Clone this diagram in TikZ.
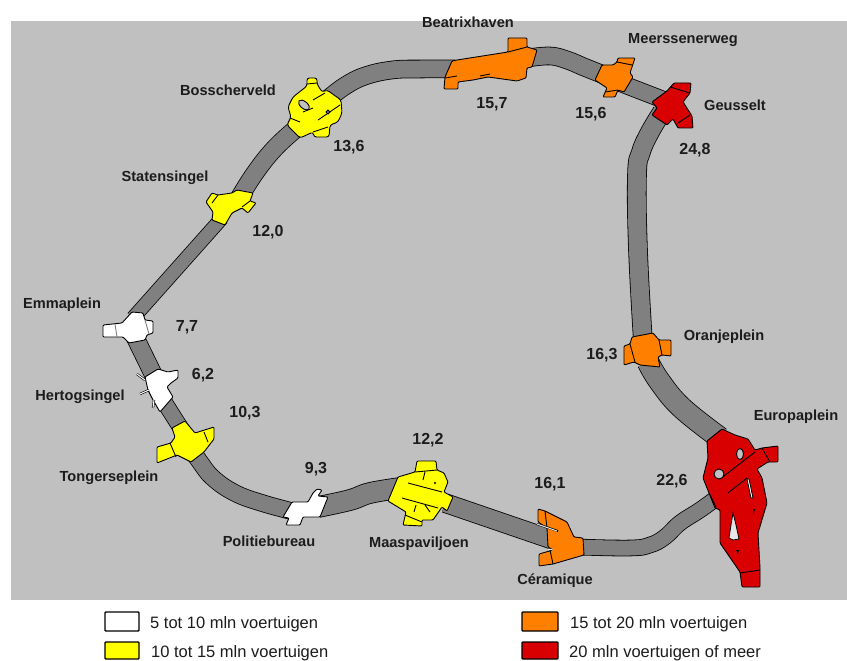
\documentclass[tikz,border=0pt]{standalone}
\usepackage{fontspec}
\setmainfont{Liberation Sans}
\definecolor{mapbg}{HTML}{C0C0C0}
\definecolor{roadc}{HTML}{808080}
\definecolor{cyel}{HTML}{FFFF00}
\definecolor{cora}{HTML}{FF8000}
\definecolor{cred}{HTML}{D80000}
\definecolor{inkc}{HTML}{1C1C1C}
\newcommand\roadseg[2]{%
  \draw[black,line width=#1pt+1.6pt,line cap=butt,line join=round] plot[smooth,tension=0.7] coordinates {#2};
  \draw[roadc,line width=#1pt,line cap=butt,line join=round] plot[smooth,tension=0.7] coordinates {#2};}
\tikzset{
  junc/.style={draw=black,line width=0.9pt,line join=round,rounded corners=1pt},
  jline/.style={draw=black,line width=0.9pt},
  place/.style={text=inkc,font=\fontsize{14.6}{16}\selectfont\bfseries,inner sep=0pt},
  valuetxt/.style={text=inkc,font=\fontsize{16}{18}\selectfont\bfseries,inner sep=0pt},
  legendbox/.style={draw=black,line width=1.4pt,rounded corners=0.8pt},
  legendtxt/.style={text=inkc,font=\fontsize{16.5}{18}\selectfont,anchor=west,inner sep=0pt},
}
\begin{document}
\begin{tikzpicture}[x=1pt,y=-1pt]
\useasboundingbox (0,0) rectangle (847,661);
\fill[white] (0,0) rectangle (847,661);
\fill[mapbg] (11,21) rectangle (847,600);
% roads
\roadseg{13}{(133,318) (222,218)}
\roadseg{17}{(238,200) (255,173) (275,148) (298,127)}
\roadseg{17}{(328,99) (345,86) (365,76) (392,70) (420,69) (455,69)}
\roadseg{17}{(528,58) (550,56) (567,60) (584,67) (604,75)}
\roadseg{16}{(620,83) (664,100)}
\roadseg{18}{(662,112) (650,132) (641,152) (637,175) (638,250) (643,342)}
\roadseg{21}{(648,362) (660,382) (682,408) (720,438)}
\roadseg{15}{(718,497) (700,510) (680,523) (665,537) (650,545) (630,548) (578,547)}
\roadseg{18}{(445,503) (556,541)}
\roadseg{20}{(400,488) (370,493) (350,500) (318,507)}
\roadseg{16}{(295,512) (262,503) (235,493) (213,478) (200,462) (192,450)}
\roadseg{15}{(182,430) (163,400)}
\roadseg{17}{(134,335) (155,378)}
% Emmaplein
\filldraw[junc,fill=white] (132,312)--(143,313)--(145,320)--(153,321)--(153,333)--(147,335)--(145,340)--(129,343)--(123,337)--(103,337)--(103,325)--(122,323)--cycle;
\draw[jline,draw=gray] (115,324)--(117,337) (145,320)--(149,334);
% Hertogsingel
\filldraw[junc,fill=white] (145,377)--(158,369)--(168,372)--(178,370)--(178,378)--(171,383)--(167,387)--(173,397)--(160,412)--(153,400)--(148,390)--cycle;
\draw[black,line width=2.2pt] (137,374)--(145,380) (140,394)--(149,390) (153,408)--(154,400);
\draw[white,line width=1pt] (137,374)--(145,380) (140,394)--(149,390) (153,408)--(154,400);
% Tongerseplein
\filldraw[junc,fill=cyel] (172,428)--(185,421)--(195,433)--(214,427)--(214,439)--(204,452)--(191,462)--(177,455)--(157,463)--(157,447)--(171,443)--(175,437)--cycle;
\draw[jline] (170,443)--(176,457) (204,432)--(208,442);
% Politiebureau
\filldraw[junc,fill=white] (292,502)--(308,502)--(313,493)--(317,489)--(322,490)--(318,496)--(328,497)--(320,517)--(303,517)--(300,525)--(286,525)--(289,518)--(283,517)--cycle;
% Maaspaviljoen
\filldraw[junc,fill=cyel] (417,461)--(436,461)--(437,470)--(444,473)--(448,482)--(444,492)--(453,497)--(447,511)--(442,507)--(433,520)--(422,520)--(422,526)--(403,525)--(406,512)--(388,501)--(398,477)--(415,472)--cycle;
\draw[jline] (408,483)--(442,492) (402,498)--(438,508) (405,515)--(422,522) (415,472)--(437,470) (423,480)--(425,472) (416,505)--(414,512) (425,505)--(430,512);
\fill[black] (435,483) circle (1.2);
% Ceramique
\filldraw[junc,fill=cora] (538,509)--(545,511)--(567,522)--(574,537)--(583,538)--(584,555)--(553,564)--(539,566)--(539,554)--(553,550)--(548,547)--(547,528)--(538,522)--cycle;
\draw[jline] (545,511)--(547,528) (550,550)--(553,564);
\draw[black,line width=2pt] (537,524)--(558,531);
\draw[white!80!gray,line width=1pt] (537,524)--(557,531) (548,549)--(553,550);
% Europaplein
\filldraw[junc,fill=cred] (722,429)--(735,435)--(748,439)--(755,450)--(762,448)--(778,446)--(778,462)--(768,462)--(757,469)--(762,478)--(767,503)--(758,533)--(760,568)--(760,587)--(742,587)--(740,572)--(720,543)--(720,510)--(715,508)--(709,493)--(703,478)--(708,458)--(707,441)--cycle;
\draw[jline] (720,479)--(755,452) (728,493)--(747,478) (762,448)--(770,462) (740,573)--(760,570) (709,493)--(716,507);
\filldraw[draw=black,line width=0.9pt,fill=mapbg] (740,454) ellipse (3.5 and 5.5);
\filldraw[draw=black,line width=0.9pt,fill=mapbg] (719,474) circle (5);
\filldraw[draw=black,line width=0.8pt,fill=white] (747,479)--(749,479)--(753,498)--(751,498)--cycle;
\filldraw[draw=black,line width=0.8pt,fill=mapbg!40!white] (733,513)--(736,525)--(739,539)--(733,540)--(729,538)--(731,525)--cycle;
\fill[black] (753,509)--(755,509)--(753,515)--cycle (736,550)--(739,550)--(738,554)--cycle;
% Oranjeplein
\filldraw[junc,fill=cora] (632,337)--(653,333)--(659,340)--(671,340)--(671,356)--(662,355)--(658,357)--(660,367)--(640,365)--(634,362)--(624,365)--(624,346)--(630,344)--cycle;
\draw[jline] (630,344)--(635,362) (659,340)--(662,355);
% Geusselt
\filldraw[junc,fill=cred] (674,83)--(691,83)--(690,93)--(683,102)--(692,116)--(693,128)--(678,128)--(673,119)--(667,125)--(652,115)--(657,108)--(652,102)--(667,91)--cycle;
\draw[jline] (670,87)--(690,93) (678,123)--(690,115);
% Meerssenerweg
\filldraw[junc,fill=cora] (618,58)--(635,58)--(630,73)--(633,77)--(624,92)--(618,90)--(615,97)--(603,97)--(607,88)--(595,80)--(602,65)--(613,65)--(617,62)--cycle;
\draw[jline] (617,62)--(632,65) (605,92)--(618,90);
% Beatrixhaven
\filldraw[junc,fill=cora] (508,38)--(527,38)--(527,47)--(537,50)--(532,67)--(527,68)--(526,78)--(517,81)--(488,77)--(473,80)--(458,82)--(458,89)--(444,89)--(445,77)--(452,61)--(457,60)--(508,52)--cycle;
\draw[jline] (508,52)--(527,47) (445,78)--(457,76) (480,76)--(490,74);
% Statensingel
\filldraw[junc,fill=cyel] (212,193)--(218,195)--(232,193)--(237,190)--(253,193)--(250,201)--(256,203)--(248,213)--(242,208)--(232,213)--(225,225)--(212,220)--(213,212)--(206,202)--cycle;
\draw[jline] (218,195)--(212,203) (250,201)--(242,207);
% Bosscherveld
\filldraw[junc,fill=cyel,rounded corners=2.5pt] (307,78)--(317,78)--(317,84)--(322,92)--(327,90)--(341,100)--(342,113)--(338,122)--(330,125)--(329,137)--(314,137)--(313,132)--(300,138)--(287,125)--(291,117)--(288,107)--(293,97)--(307,86)--cycle;
\draw[jline] (303,112)--(313,108) (318,120)--(340,105) (313,100)--(325,93) (290,118)--(300,122) (313,132)--(328,127) (307,84)--(317,83);
\filldraw[draw=black,line width=0.9pt,fill=mapbg,rotate around={-40:(304,105)}] (304,105) ellipse (6.5 and 3.5);
\filldraw[draw=black,line width=1pt,fill=mapbg] (328,112) circle (1.8);
% labels
\node[place] (n1) at (468,22) {Beatrixhaven};
\node[place] (n2) at (683,40) {Meerssenerweg};
\node[place] (n3) at (735,105) {Geusselt};
\node[place] (n4) at (228,90) {Bosscherveld};
\node[place] (n5) at (165,178) {Statensingel};
\node[place] (n6) at (62,305) {Emmaplein};
\node[place] (n7) at (80,397) {Hertogsingel};
\node[place] (n8) at (109,478) {Tongerseplein};
\node[place] (n9) at (269,541) {Politiebureau};
\node[place] (n10) at (419,544) {Maaspaviljoen};
\node[place] (n11) at (555,581) {Céramique};
\node[place] (n12) at (796,417) {Europaplein};
\node[place] (n13) at (724,337) {Oranjeplein};
\node[valuetxt] (v1) at (349,147) {13,6};
\node[valuetxt] (v2) at (492,104) {15,7};
\node[valuetxt] (v3) at (591,114) {15,6};
\node[valuetxt] (v4) at (695,150) {24,8};
\node[valuetxt] (v5) at (268,232) {12,0};
\node[valuetxt] (v6) at (187,327) {7,7};
\node[valuetxt] (v7) at (203,375) {6,2};
\node[valuetxt] (v8) at (245,413) {10,3};
\node[valuetxt] (v9) at (316,469) {9,3};
\node[valuetxt] (v10) at (428,440) {12,2};
\node[valuetxt] (v11) at (550,484) {16,1};
\node[valuetxt] (v12) at (672,481) {22,6};
\node[valuetxt] (v13) at (602,355) {16,3};
% legend
\filldraw[legendbox,fill=white] (105,612) rectangle (139,631);
\filldraw[legendbox,fill=cyel] (105,642) rectangle (139,659);
\filldraw[legendbox,fill=cora] (522,612) rectangle (558,631);
\filldraw[legendbox,fill=cred] (522,642) rectangle (558,659);
\node[legendtxt] (l1) at (150,624) {5 tot 10 mln voertuigen};
\node[legendtxt] (l2) at (151,653) {10 tot 15 mln voertuigen};
\node[legendtxt] (l3) at (570,624) {15 tot 20 mln voertuigen};
\node[legendtxt] (l4) at (569,653) {20 mln voertuigen of meer};
\end{tikzpicture}
\end{document}
